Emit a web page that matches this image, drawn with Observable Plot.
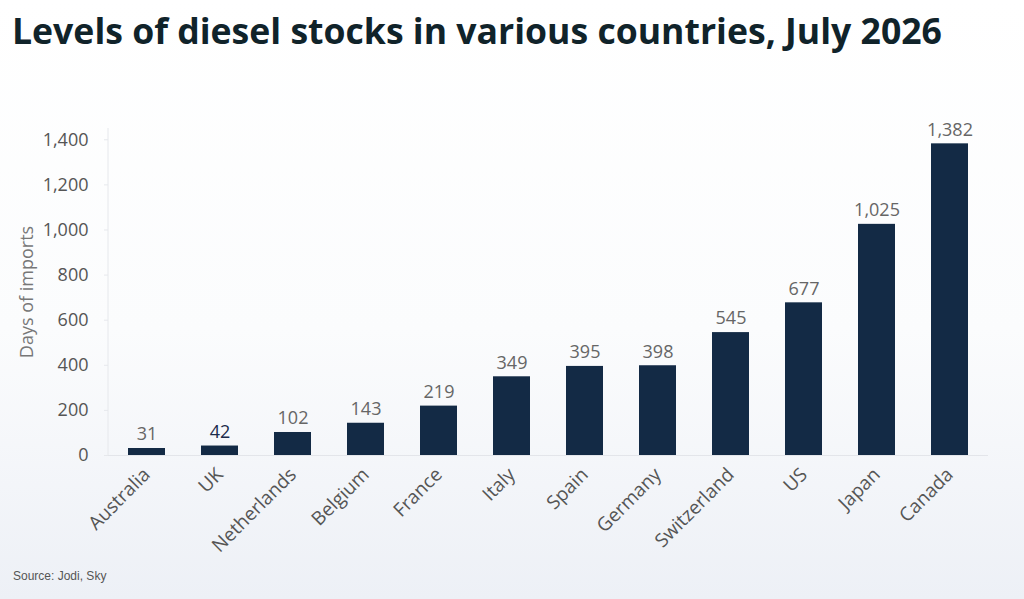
<!DOCTYPE html>
<html>
<head>
<meta charset="utf-8">
<script src="https://cdn.jsdelivr.net/npm/d3@7"></script>
<script src="https://cdn.jsdelivr.net/npm/@observablehq/plot@0.6"></script>
<style>
  html, body { margin: 0; padding: 0; }
  body {
    width: 1024px; height: 599px; position: relative; overflow: hidden;
    background: linear-gradient(180deg, #ffffff 0%, #fbfcfd 55%, #edf0f6 100%);
    font-family: "Open Sans", sans-serif;
  }
  #title {
    position: absolute; left: 12px; top: 12px; line-height: 36px;
    font-family: "Open Sans", sans-serif; font-weight: 700; font-size: 35.6px;
    color: #10232a; letter-spacing: 0px; white-space: nowrap;
  }
  #chart { position: absolute; left: 0; top: 100px; }
  #source {
    position: absolute; left: 13px; top: 569px;
    font-family: "Liberation Sans", Arial, sans-serif; font-size: 12px; color: #555;
  }
</style>
</head>
<body>
<div id="title">Levels of diesel stocks in various countries, July 2026</div>
<div id="chart"></div>
<div id="source">Source: Jodi, Sky</div>
<script>
const countries = ["Australia", "UK", "Netherlands", "Belgium", "France", "Italy", "Spain", "Germany", "Switzerland", "US", "Japan", "Canada"];
const days = [31, 42, 102, 143, 219, 349, 395, 398, 545, 677, 1025, 1382];
const yTicks = [0, 200, 400, 600, 800, 1000, 1200, 1400];
const highlight = "UK";

const data = countries.map((c, i) => ({country: c, value: days[i]}));
const fmt = d3.format(",");

const plot = Plot.plot({
  width: 1024,
  height: 460,
  marginLeft: 108,
  marginRight: 36,
  marginTop: 28,
  marginBottom: 105,
  style: {fontFamily: "Open Sans, sans-serif", background: "transparent"},
  x: {domain: countries, paddingInner: 0.5, paddingOuter: 0.25, label: null},
  y: {domain: [0, 1450], label: null},
  marks: [
    Plot.axisY({ticks: yTicks, tickFormat: fmt, fontSize: 18, tickSize: 4, tickPadding: 16, stroke: "#e6e8ec", color: "#555",
      label: "Days of imports", labelAnchor: "center", labelArrow: "none", labelOffset: 88}),
    Plot.axisX({tickRotate: -45, fontSize: 19, tickSize: 0, tickPadding: 16, color: "#555", label: null}),
    Plot.ruleY([0], {stroke: "#e3e5ea"}),
    Plot.barY(data, {x: "country", y: "value", fill: "#132a45"}),
    Plot.text(data, {x: "country", y: "value", text: d => fmt(d.value), dy: -14, fontSize: 18,
      fill: d => d.country === highlight ? "#1a2b4a" : "#666",
      fontWeight: d => d.country === highlight ? 700 : 400})
  ]
});

const svg = d3.select(plot);
svg.append("line").attr("x1", 108).attr("x2", 108).attr("y1", 28).attr("y2", 355).attr("stroke", "#e6e8ec");
svg.selectAll("[aria-label='y-axis label'] text, [aria-label='y-axis label']").attr("fill", "#777");
document.getElementById("chart").appendChild(plot);
</script>
</body>
</html>
